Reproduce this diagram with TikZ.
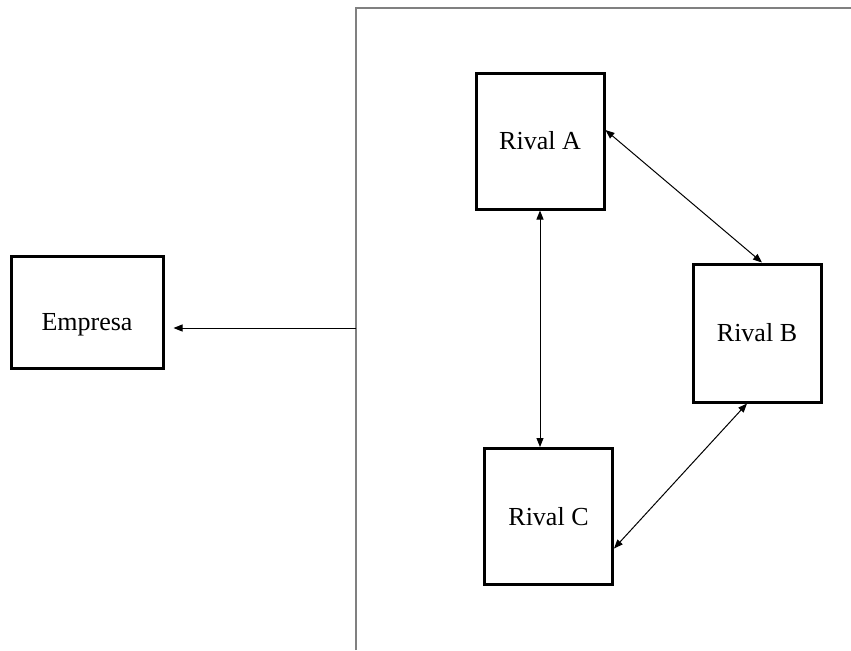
\documentclass[tikz,border=0pt]{standalone}
\usepackage{fontspec}
\setmainfont{Liberation Serif}
\usetikzlibrary{arrows.meta}
\begin{document}
\begin{tikzpicture}[x=0.5pt,y=-0.5pt,
    box/.style={draw,line width=1.5pt,minimum width=64pt,minimum height=68pt,
      font=\fontsize{13}{15}\selectfont},
    tip/.tip={Triangle[length=4.5pt,width=3.5pt]},
    link/.style={tip-tip,line width=0.5pt}]
  \useasboundingbox (0,0) rectangle (851,650);
  % market frame
  \draw[gray,line width=1pt] (356,650) -- (356,8) -- (851,8);
  \coordinate (hit) at (356,328);
  % firms
  \node[box,minimum width=76pt,minimum height=56pt,text height=21pt,text depth=3pt](empresa) at (87,312){Empresa};
  \node[box](rivalA) at (540,141){Rival A};
  \node[box,minimum height=69pt](rivalB) at (757,333){Rival B};
  \node[box](rivalC) at (548.5,516.5){Rival C};
  % rivalry
  \draw[-tip,line width=0.5pt,shorten >=4.5pt] (hit) -- (hit -| empresa.east);
  \draw[link] (rivalA.south) -- (rivalA.south |- rivalC.north);
  \draw[link] ([yshift=5.5pt]rivalA.east) -- ([xshift=2.5pt]rivalB.north);
  \draw[link] ([xshift=-5pt]rivalB.south) -- ([yshift=-16pt]rivalC.east);
\end{tikzpicture}
\end{document}
